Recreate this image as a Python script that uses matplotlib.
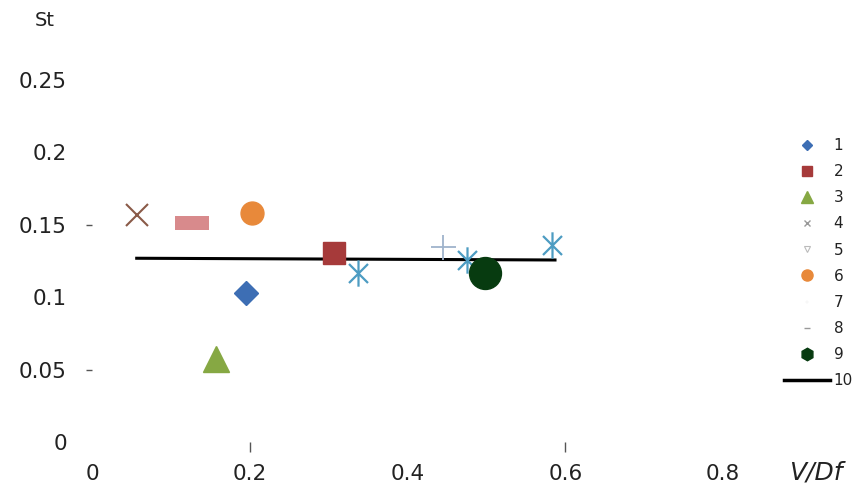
import matplotlib
matplotlib.use("Agg")
import matplotlib.pyplot as plt
from matplotlib.path import Path
from matplotlib.lines import Line2D

# ---- data ----
s1_x, s1_y = [0.195], [0.1032]          # 1 diamond
s2_x, s2_y = [0.307], [0.1307]          # 2 square
s3_x, s3_y = [0.157], [0.0573]          # 3 triangle
s4_x, s4_y = [0.0567], [0.1568]         # 4 x
s5_x, s5_y = [0.337, 0.475, 0.583], [0.1165, 0.126, 0.136]  # 5 asterisk
s6_x, s6_y = [0.2025], [0.158]          # 6 circle
s7_x, s7_y = [0.445], [0.1345]          # 7 plus
s8_x, s8_y = [0.1264], [0.151]          # 8 dash
s9_x, s9_y = [0.498], [0.1165]          # 9 big circle
s10_x, s10_y = [0.0567, 0.587], [0.1269, 0.1257]  # 10 line
labels = ["1", "2", "3", "4", "5", "6", "7", "8", "9", "10"]
xticks = [0, 0.2, 0.4, 0.6, 0.8]
xticklabels = ["0", "0.2", "0.4", "0.6", "0.8"]
yticks = [0, 0.05, 0.1, 0.15, 0.2, 0.25]
yticklabels = ["0", "0.05", "0.1", "0.15", "0.2", "0.25"]

plt.rcParams['font.family'] = ['DejaVu Sans']

W, H = 859, 492
fig = plt.figure(figsize=(W / 100, H / 100), dpi=100)
x0, x8 = 92, 723
y0, y25 = 442, 80
ax = fig.add_axes([x0 / W, (H - y0) / H, (x8 - x0) / W, (y0 - y25) / H])
ax.set_xlim(0, 0.8)
ax.set_ylim(0, 0.25)
for sp in ax.spines.values():
    sp.set_visible(False)

asterisk = Path([(0, -1), (0, 1), (-0.72, -0.72), (0.72, 0.72), (-0.72, 0.72), (0.72, -0.72)],
                [Path.MOVETO, Path.LINETO, Path.MOVETO, Path.LINETO, Path.MOVETO, Path.LINETO])
rect = Path([(-1, -0.4), (1, -0.4), (1, 0.4), (-1, 0.4), (-1, -0.4)])

c1, c2, c3, c4, c5 = '#3d6eb4', '#a63a3a', '#86a843', '#8a5a48', '#4d9cc2'
c6, c7, c8, c9, c10 = '#e8893a', '#9fb3cc', '#d88a8c', '#073b10', '#000000'

kw = dict(linestyle='none', clip_on=False)
ax.plot(s10_x, s10_y, color=c10, lw=2.2, zorder=2)
ax.plot(s1_x, s1_y, marker='D', ms=12.5, color=c1, mec=c1, **kw)
ax.plot(s2_x, s2_y, marker='s', ms=16, color=c2, mec=c2, **kw)
ax.plot(s3_x, s3_y, marker='^', ms=19, color=c3, mec=c3, **kw)
ax.plot(s4_x, s4_y, marker='x', ms=16, mew=1.5, color=c4, **kw)
ax.plot(s5_x, s5_y, marker=asterisk, ms=19, mew=1.6, color=c5, mfc='none', **kw)
ax.plot(s6_x, s6_y, marker='o', ms=16.5, color=c6, mec=c6, **kw)
ax.plot(s7_x, s7_y, marker='+', ms=18, mew=1.3, color=c7, **kw)
ax.plot(s8_x, s8_y, marker=rect, ms=25, color=c8, mec=c8, mew=0, **kw)
ax.plot(s9_x, s9_y, marker='o', ms=23, color=c9, mec=c9, **kw)

ax.set_xticks(xticks)
ax.set_xticklabels(xticklabels)
ax.set_yticks(yticks)
ax.set_yticklabels(yticklabels)
ax.tick_params(axis='both', which='major', length=0, labelsize=15.5, colors='#222222')
ax.tick_params(axis='y', pad=18)
ax.tick_params(axis='x', pad=16)
ax.xaxis.remove_overlapping_locs = False
ax.yaxis.remove_overlapping_locs = False
ax.set_yticks([0.05, 0.15], minor=True)
ax.set_xticks([0.2, 0.6], minor=True)
ax.tick_params(axis='y', which='minor', length=4.5, width=1, color='#555555')
ax.tick_params(axis='x', which='minor', length=7, width=1, color='#555555')

fig.text(45 / W, 1 - 20 / H, "St", fontsize=14, ha='center', va='center', color='#222222')
fig.text(816 / W, 1 - 473 / H, "V/Df", fontsize=18, style='italic', ha='center', va='center', color='#222222')

handles = [
    Line2D([], [], ls='none', marker='D', ms=5, color=c1),
    Line2D([], [], ls='none', marker='s', ms=7, color=c2),
    Line2D([], [], ls='none', marker='^', ms=8, color=c3),
    Line2D([], [], ls='none', marker='x', ms=4, mew=1, color='#999999'),
    Line2D([], [], ls='none', marker='v', ms=4, mfc='none', mew=0.8, color='#bbbbbb'),
    Line2D([], [], ls='none', marker='o', ms=8, color=c6),
    Line2D([], [], ls='none', marker='+', ms=3, mew=0.3, color='#eeeeee'),
    Line2D([], [], ls='none', marker='_', ms=4, mew=1, color='#999999'),
    Line2D([], [], ls='none', marker='h', ms=9, color=c9),
    Line2D([], [], color=c10, lw=2.5),
]
leg = fig.legend(handles, labels, loc='upper left', bbox_to_anchor=(784 / W, 1 - 138 / H),
                 frameon=False, fontsize=11, handlelength=3.0, handletextpad=0.25,
                 labelspacing=0.73, borderaxespad=0, borderpad=0)
for t in leg.get_texts():
    t.set_color('#222222')

fig.savefig("out.png", dpi=100)
